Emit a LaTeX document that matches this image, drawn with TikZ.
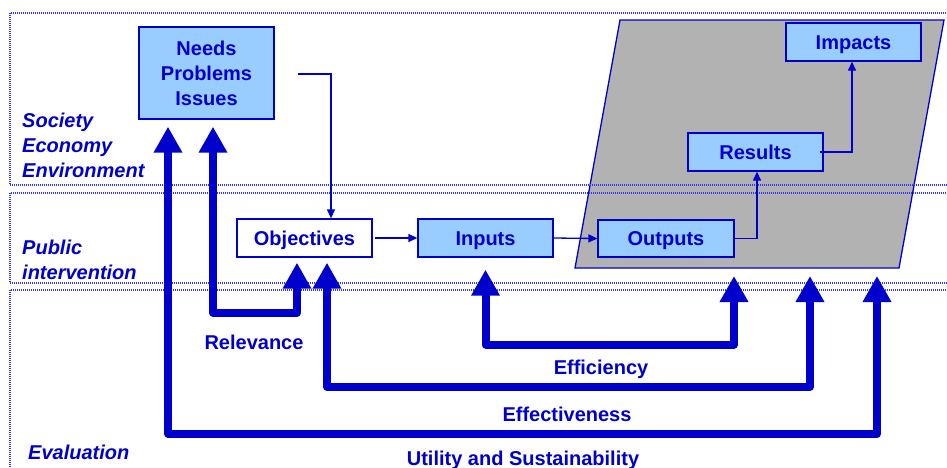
\documentclass[tikz,border=0pt]{standalone}
\usepackage{fontspec}
\setmainfont{Liberation Sans}
\usetikzlibrary{arrows.meta}
\definecolor{evblue}{RGB}{0,0,204}
\definecolor{boxfill}{RGB}{153,204,255}
\definecolor{shade}{RGB}{178,178,178}
\definecolor{dotblue}{RGB}{51,51,255}
\begin{document}
\begin{tikzpicture}[x=1pt,y=1pt]
    \tikzstyle{every node}+=[inner sep=0pt, text=evblue]
    \tikzstyle{box}=[draw=evblue, line width=1.3pt, fill=boxfill, font=\fontsize{20}{25}\selectfont\bfseries, minimum width=135pt, minimum height=38pt, align=center]
    \tikzstyle{oneline}=[box, text height=16pt, text depth=2pt]
    \tikzstyle{flow}=[draw=evblue, line width=1.3pt, -{Triangle[length=9pt,width=8pt]}]
    \tikzstyle{big}=[draw=evblue, line width=8pt, line join=round, {Triangle[length=26pt,width=27pt]}-{Triangle[length=26pt,width=27pt]}]
    \tikzstyle{band}=[draw=dotblue, line width=1.2pt, dash pattern=on 1pt off 1pt]
    \tikzstyle{lab}=[font=\fontsize{20}{25}\selectfont\bfseries]
    \tikzstyle{side}=[font=\fontsize{20}{25}\selectfont\bfseries\itshape, align=left, anchor=west]
    \useasboundingbox (0,0) rectangle (947,-467);
    \draw [draw=evblue, line width=1.3pt, fill=shade] (620,-20) -- (944,-20) -- (899,-268) -- (575,-268) -- cycle;
    \draw [band] (10,-13) rectangle (960,-185);
    \draw [band] (10,-193) rectangle (960,-283);
    \draw [band] (10,-290) rectangle (960,-480);
    \node [side] (soc) at (22,-145) {Society\\Economy\\Environment};
    \node [side] (pub) at (22,-259.5) {Public\\intervention};
    \node [side] (eva) at (28,-452) {Evaluation};
    \node [box, minimum height=92pt] (needs) at (206.5,-73) {Needs\\Problems\\Issues};
    \node [oneline, fill=white] (obj) at (304.5,-238) {Objectives};
    \node [oneline] (inp) at (485.5,-238) {Inputs};
    \node [oneline, minimum width=136pt, minimum height=37pt] (outp) at (666,-238.5) {Outputs};
    \node [oneline] (res) at (755.5,-152) {Results};
    \node [oneline] (imp) at (853.5,-42) {Impacts};
    \coordinate (feed) at (298,-74);
    \draw [flow] (feed) -| ([xshift=26.5pt]obj.north);
    \draw [flow] ([xshift=2pt]obj.east) -- (inp.west);
    \draw [flow] (inp.east) -- (outp.west);
    \draw [flow] (outp.east) -| ([xshift=1.5pt]res.south);
    \draw [flow] ([xshift=-4pt]res.east) -| ([xshift=-1.5pt]imp.south);
    \coordinate (ntipa) at ([xshift=-38.5pt,yshift=-7pt]needs.south);
    \coordinate (ntipb) at ([xshift=6.5pt,yshift=-7pt]needs.south);
    \coordinate (otipa) at ([xshift=-7.5pt,yshift=-5pt]obj.south);
    \coordinate (otipb) at ([xshift=22.5pt,yshift=-5pt]obj.south);
    \coordinate (itip) at ([yshift=-12pt]inp.south);
    \coordinate (rtipa) at (734,-276);
    \coordinate (rtipb) at (810,-276);
    \coordinate (rtipc) at (877,-276);
    \draw [big] (ntipb) -- ++(0,-186) -| (otipa);
    \draw [big] (itip) -- ++(0,-75) -| (rtipa);
    \draw [big] (otipb) -- ++(0,-124) -| (rtipb);
    \draw [big] (ntipa) -- ++(0,-307) -| (rtipc);
    \node [lab] (rel) at (254,-342) {Relevance};
    \node [lab] (eff) at (601,-369) {Efficiency};
    \node [lab] (efv) at (567,-414) {Effectiveness};
    \node [lab] (uti) at (523,-460) {Utility and Sustainability};
\end{tikzpicture}
\end{document}
